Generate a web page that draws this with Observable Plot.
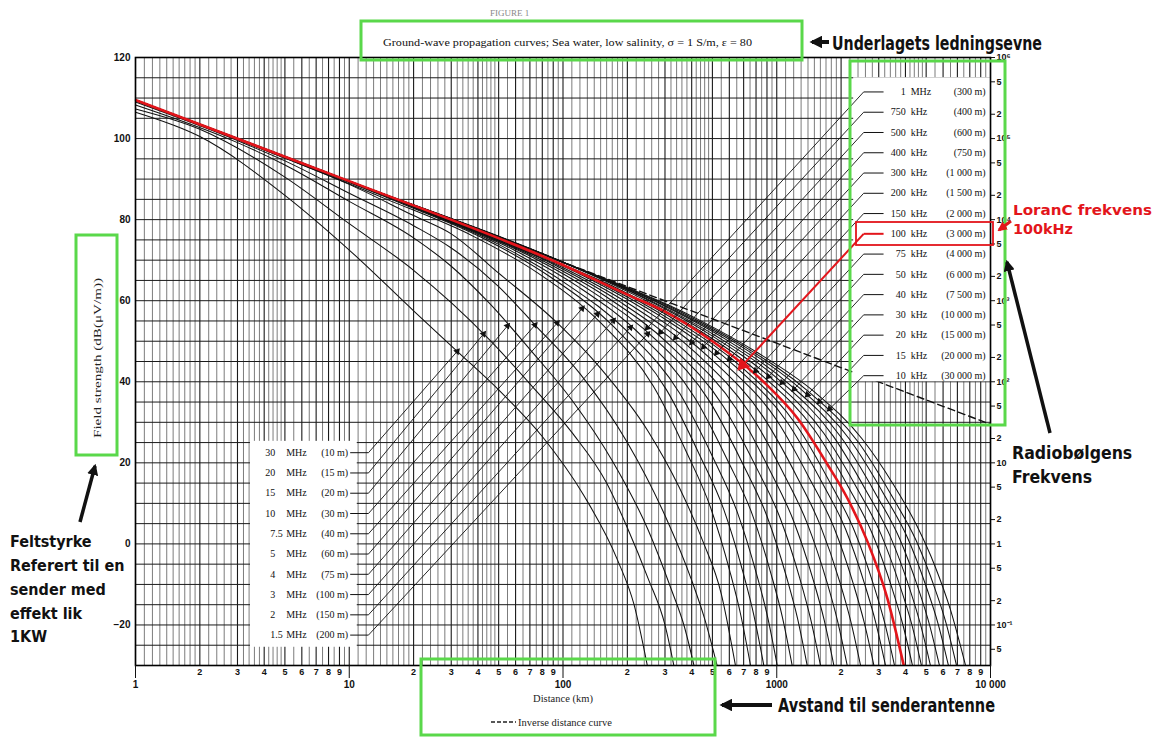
<!DOCTYPE html>
<html><head><meta charset="utf-8">
<script src="https://cdn.jsdelivr.net/npm/d3@7"></script>
<script src="https://cdn.jsdelivr.net/npm/@observablehq/plot@0.6"></script>
<style>
body{margin:0;background:#fff;}
#wrap{position:relative;width:1155px;height:738px;overflow:hidden;background:#fff;}
#chart{position:absolute;left:0;top:0;}
#ann{position:absolute;left:0;top:0;}
</style></head><body>
<div id="wrap"><div id="chart"></div>
<svg id="ann" width="1155" height="738" xmlns="http://www.w3.org/2000/svg">
<defs>
<marker id="ahB" viewBox="0 0 10 10" refX="8" refY="5" markerWidth="3.2" markerHeight="3.2" orient="auto"><path d="M0,0L10,5L0,10z" fill="#111"/></marker>
<marker id="ahR" viewBox="0 0 10 10" refX="8" refY="5" markerWidth="3.2" markerHeight="3.2" orient="auto"><path d="M0,0L10,5L0,10z" fill="#e3151b"/></marker>
</defs>
<text x="490" y="16" font-family="Liberation Serif" font-size="9" fill="#888">FIGURE 1</text>
<rect x="361" y="21" width="441" height="39" fill="none" stroke="#5ad84a" stroke-width="3"/>
<text x="383" y="46" font-family="Liberation Serif" font-size="11" fill="#111" textLength="369" lengthAdjust="spacingAndGlyphs">Ground-wave propagation curves; Sea water, low salinity, σ = 1 S/m, ε = 80</text>
<line x1="829" y1="42" x2="812" y2="42" stroke="#111" stroke-width="4" marker-end="url(#ahB)"/>
<text x="832" y="50" font-family="DejaVu Sans Condensed, DejaVu Sans, sans-serif" font-weight="bold" font-size="19" fill="#111" textLength="210" lengthAdjust="spacingAndGlyphs">Underlagets ledningsevne</text>
<rect x="850" y="61" width="155" height="364" fill="none" stroke="#5ad84a" stroke-width="3"/>
<rect x="856" y="222" width="137" height="23" fill="none" stroke="#e3151b" stroke-width="1.8"/>
<line x1="1011" y1="221" x2="999" y2="230" stroke="#e3151b" stroke-width="3" marker-end="url(#ahR)"/>
<text x="1013" y="215" font-family="DejaVu Sans Condensed, DejaVu Sans, sans-serif" font-weight="bold" font-size="13.5" fill="#e3151b" textLength="139" lengthAdjust="spacingAndGlyphs">LoranC frekvens</text>
<text x="1013" y="234" font-family="DejaVu Sans Condensed, DejaVu Sans, sans-serif" font-weight="bold" font-size="13.5" fill="#e3151b" textLength="60" lengthAdjust="spacingAndGlyphs">100kHz</text>
<line x1="1050" y1="433" x2="1007" y2="262" stroke="#111" stroke-width="3.5" marker-end="url(#ahB)"/>
<g font-family="DejaVu Sans Condensed, DejaVu Sans, sans-serif" font-weight="bold" font-size="17.5" fill="#111">
<text x="1012" y="459">Radiobølgens</text>
<text x="1012" y="483">Frekvens</text>
</g>
<rect x="76" y="235" width="41" height="220" fill="none" stroke="#5ad84a" stroke-width="3"/>
<text transform="translate(101,358) rotate(-90)" text-anchor="middle" font-family="Liberation Serif" font-size="11" fill="#222" textLength="160" lengthAdjust="spacingAndGlyphs">Field strength (dB(μV/m))</text>
<line x1="80" y1="522" x2="95" y2="466" stroke="#111" stroke-width="3.5" marker-end="url(#ahB)"/>
<g font-family="DejaVu Sans Condensed, DejaVu Sans, sans-serif" font-weight="bold" font-size="16" fill="#111">
<text x="10" y="547">Feltstyrke</text>
<text x="10" y="571">Referert til en</text>
<text x="10" y="595">sender med</text>
<text x="10" y="619">effekt lik</text>
<text x="10" y="642">1KW</text>
</g>
<rect x="421" y="659" width="294" height="76" fill="none" stroke="#5ad84a" stroke-width="3"/>
<text x="563" y="702" text-anchor="middle" font-family="Liberation Serif" font-size="10.5" fill="#222">Distance (km)</text>
<line x1="491" y1="722" x2="516" y2="722" stroke="#222" stroke-width="1.3" stroke-dasharray="4,2"/>
<text x="518" y="726" font-family="Liberation Serif" font-size="10.5" fill="#222">Inverse distance curve</text>
<line x1="772" y1="705" x2="722" y2="705" stroke="#111" stroke-width="4" marker-end="url(#ahB)"/>
<text x="778" y="712" font-family="DejaVu Sans Condensed, DejaVu Sans, sans-serif" font-weight="bold" font-size="19" fill="#111" textLength="217" lengthAdjust="spacingAndGlyphs">Avstand til senderantenne</text>
</svg>
</div>
<script>
// ---- Curve data: [distance km, field strength dB(uV/m)] ----
const c30MHz = [[1,106.5],[2,100.5],[5,86],[10,72.5],[20,57.5],[32,47.5],[50,38],[80,26.5],[125,12],[180,-4],[215,-15],[248,-30]];
const c20MHz = [[1,107.3],[2,102.3],[5,90.5],[10,79],[20,67.5],[30,59.5],[45,50.5],[70,39.5],[110,27.5],[160,15],[200,4],[250,-8.5],[300,-20],[330,-30]];
const c15MHz = [[1,108.3],[3,99],[5,93.5],[10,84.5],[20,75.5],[30,68.5],[45,59.5],[70,48],[110,35.5],[170,20.5],[250,3.5],[320,-11],[370,-20.5],[410,-30]];
const c10MHz = [[1,109],[3,99.5],[5,94.5],[10,86.5],[20,78.5],[30,73],[50,63.5],[74,54],[120,42],[200,25],[300,7],[400,-9],[460,-18.5],[526,-30]];
const c7_5MHz = [[1,109.3],[5,95.2],[10,88.7],[20,81],[30,76.5],[50,66.8],[94,54.5],[150,43.3],[250,27.8],[350,13.9],[450,0.8],[550,-12.3],[641,-30]];
const c5MHz = [[1,109.4],[5,95.2],[15,85],[37.7,76],[75.4,67],[151,54.4],[264,39],[377,22.8],[490,9],[603,-6.7],[679,-17.6],[754,-30]];
const c4MHz = [[1,109.4],[5,95.3],[17,84.3],[43.5,75.1],[87,65.9],[174,53.4],[305,38],[435,22],[566,8.4],[696,-7.1],[783,-17.8],[870,-30]];
const c3MHz = [[1,109.5],[5,95.4],[20,83],[50,73.9],[100,64.7],[201,52.3],[352,37.1],[503,21.3],[653,7.9],[804,-7.4],[905,-17.9],[1005,-30]];
const c2MHz = [[1,109.5],[10,89.4],[24,81.4],[59,72.5],[118,63.4],[236,51.1],[413,36.1],[590,20.5],[768,7.3],[945,-7.8],[1063,-18.1],[1181,-30]];
const c1_5MHz = [[1,109.5],[10,89.5],[28,80.1],[69,71.2],[139,62],[278,49.9],[486,35.1],[694,19.7],[902,6.7],[1110,-8.1],[1250,-18.3],[1388,-30]];
const c1MHz = [[1,109.5],[10,89.5],[32,78.9],[80,69.9],[160,60.9],[320,48.8],[560,34.1],[800,19],[1040,6.2],[1280,-8.4],[1440,-18.5],[1602,-30]];
const c750kHz = [[1,109.5],[10,89.5],[37,77.7],[92.5,68.7],[185,59.7],[370,47.7],[648,33.3],[925,18.3],[1200,5.6],[1480,-8.8],[1665,-18.7],[1850,-30]];
const c500kHz = [[1,109.5],[10,89.5],[50,75],[107,67.4],[214,58.5],[427,46.7],[748,32.3],[1070,17.6],[1390,5],[1710,-9.1],[1923,-18.9],[2137,-30]];
const c400kHz = [[1,109.5],[10,89.5],[50,75.2],[123,66.3],[247,57.4],[493,45.6],[863,31.4],[1234,16.9],[1600,4.5],[1975,-9.5],[2220,-19.1],[2467,-30]];
const c300kHz = [[1,109.5],[10,89.5],[50,75.3],[142,65],[285,56.2],[570,44.5],[1000,30.5],[1425,16.1],[1850,4.1],[2280,-9.8],[2560,-19.2],[2848,-30]];
const c200kHz = [[1,109.5],[10,89.5],[100,68.7],[160,64],[320,55.2],[645,43.6],[1130,29.7],[1615,15.5],[2100,3.6],[2580,-10],[2905,-19.4],[3228,-30]];
const c150kHz = [[1,109.5],[10,89.5],[100,68.9],[180,63],[355,54.4],[710,42.9],[1245,29.1],[1780,15],[2310,3.2],[2845,-10.3],[3200,-19.5],[3556,-30]];
const c100kHz = [[1,109.5],[10,89.5],[100,68.8],[200,61.5],[300,57.3],[500,50],[867,40],[1250,31],[1727,19.6],[2143,11.2],[2660,0.5],[3300,-13.6],[3929,-30]];
const c75kHz = [[1,109.5],[10,89.5],[100,69.5],[215,61.5],[430,52.8],[860,41.4],[1510,27.9],[2160,14.1],[2800,2.5],[3450,-10.7],[3880,-19.7],[4315,-30]];
const c50kHz = [[1,109.5],[10,89.5],[100,69.5],[240,60.6],[475,52],[950,40.7],[1660,27.3],[2380,13.6],[3090,2.1],[3800,-10.9],[4280,-19.8],[4753,-30]];
const c40kHz = [[1,109.5],[10,89.5],[100,69.5],[260,59.9],[520,51.3],[1050,40],[1830,26.7],[2620,13.1],[3400,1.8],[4190,-11.1],[4710,-20],[5236,-30]];
const c30kHz = [[1,109.5],[10,89.5],[100,69.5],[290,59],[580,50.4],[1150,39.3],[2000,26.3],[2900,12.4],[3750,1.4],[4600,-11.1],[5200,-20.2],[5770,-30]];
const c20kHz = [[1,109.5],[10,89.5],[100,69.5],[320,58.1],[640,49.6],[1300,38.1],[2200,25.7],[3200,11.9],[4100,1.4],[5000,-10.5],[5700,-19.9],[6357,-30]];
const c15kHz = [[1,109.5],[10,89.5],[100,69.5],[350,57.4],[700,48.8],[1400,37.7],[2400,25.2],[3500,11.3],[4500,0.7],[5500,-11.1],[6200,-19.6],[6935,-30]];
const c10kHz = [[1,109.5],[10,89.5],[100,69.5],[400,56.2],[800,47.4],[1500,37.5],[2500,26],[3500,14.8],[4500,4.7],[5500,-5.5],[6500,-16.3],[7643,-30]];
const inverseDistance = [[1,109.5],[10000,29.5]];

const curveNames = ["30 MHz","20 MHz","15 MHz","10 MHz","7.5 MHz","5 MHz","4 MHz","3 MHz","2 MHz","1.5 MHz","1 MHz","750 kHz","500 kHz","400 kHz","300 kHz","200 kHz","150 kHz","100 kHz","75 kHz","50 kHz","40 kHz","30 kHz","20 kHz","15 kHz","10 kHz"];
const curvePoints = [c30MHz,c20MHz,c15MHz,c10MHz,c7_5MHz,c5MHz,c4MHz,c3MHz,c2MHz,c1_5MHz,c1MHz,c750kHz,c500kHz,c400kHz,c300kHz,c200kHz,c150kHz,c100kHz,c75kHz,c50kHz,c40kHz,c30kHz,c20kHz,c15kHz,c10kHz];

// ---- Curve labels ----
const leftNum = ["30","20","15","10","7.5","5","4","3","2","1.5"];
const leftWave = ["(10 m)","(15 m)","(20 m)","(30 m)","(40 m)","(60 m)","(75 m)","(100 m)","(150 m)","(200 m)"];
const leftTipDist = [32,42.5,55,74,94,123,145,172,207,249];
const leftTipDb = [47.5,51.8,53.8,54,54.5,58.1,56.7,55.1,53.4,51.8];
const rightNum = ["1","750","500","400","300","200","150","100","75","50","40","30","20","15","10"];
const rightUnit = ["MHz","kHz","kHz","kHz","kHz","kHz","kHz","kHz","kHz","kHz","kHz","kHz","kHz","kHz","kHz"];
const rightWave = ["(300 m)","(400 m)","(600 m)","(750 m)","(1 000 m)","(1 500 m)","(2 000 m)","(3 000 m)","(4 000 m)","(6 000 m)","(7 500 m)","(10 000 m)","(15 000 m)","(20 000 m)","(30 000 m)"];
const rightTipDist = [248,286,336,400,454,523,600,692,796,915,1058,1205,1392,1585,1766];
const rightTipDb = [53.3,52.2,50.9,49.7,48.6,47.1,45.6,44.1,42.7,41.3,39.8,38.2,36.8,35.1,33.3];

// ---- Axis ticks ----
const leftTicks = [-20,0,20,40,60,80,100,120];
const majorDist = [1,10,100,1000,10000];
const majorDistLabels = ["1","10","100","1000","10 000"];
const minorDigits = ["2","3","4","5","6","7","8","9"];
const rightTickDb = [120,114,106,100,94,86,80,74,66,60,54,46,40,34,26,20,14,6,0,-6,-14,-20,-26];
const rightTickLabels = ["10⁶","5","2","10⁵","5","2","10⁴","5","2","10³","5","2","10²","5","2","10","5","2","1","5","2","10⁻¹","5"];

// ---- layout ----
const W = 1155, H = 738, ML = 135, MR = 165, MT = 57, MB = 73;
const LEFT_LINE_D0 = 10.1, LEFT_ELBOW_D = 12.3;
const RIGHT_ELBOW_D = 2550, RIGHT_LINE_D1 = 3160;
const LEFT_PANEL = {x1: 3.45, x2: 10.9, y1: -25.5, y2: 25.3};
const RIGHT_PANEL = {x1: 2290, x2: 10000, y1: 40, y2: 115};

const gridMinor = [], gridMajor = [];
for (let p = 0; p < 4; p++) {
  const b = 10 ** p;
  for (let k = 10; k < 20; k++) (k % 10 === 0 ? gridMajor : gridMinor).push(k / 10 * b);
  for (let k = 20; k < 50; k += 2) (k % 10 === 0 ? gridMajor : gridMinor).push(k / 10 * b);
  for (let k = 50; k < 100; k += 5) (k % 10 === 0 ? gridMajor : gridMinor).push(k / 10 * b);
}
gridMajor.push(10000);
const gridY = d3.range(-30, 121, 5);
const minorTicks = [];
for (let p = 0; p < 4; p++) minorDigits.forEach(t => minorTicks.push({d: +t * 10 ** p, t}));

const blackRows = [];
curvePoints.forEach((pts, i) => {
  if (curveNames[i] !== "100 kHz") pts.forEach(([d, e]) => blackRows.push({f: curveNames[i], d, e}));
});

// scales (same as the plot's) used only to orient the arrowheads
const sx = Plot.scale({x: {type: "log", domain: [1, 10000], range: [ML, W - MR]}});
const sy = Plot.scale({y: {domain: [-30, 120], range: [H - MB, MT]}});
const headAngle = (x1, y1, x2, y2) => Math.atan2(sy.apply(y2) - sy.apply(y1), sx.apply(x2) - sx.apply(x1)) * 180 / Math.PI + 90;

const leftRows = leftNum.map((n, i) => {
  const e = 22.5 - 5 * i;
  return {n, u: "MHz", w: leftWave[i], e, td: leftTipDist[i], te: leftTipDb[i], rot: headAngle(LEFT_ELBOW_D, e, leftTipDist[i], leftTipDb[i])};
});
const rightRows = rightNum.map((n, i) => {
  const e = 111.5 - 5 * i;
  return {n, u: rightUnit[i], w: rightWave[i], e, td: rightTipDist[i], te: rightTipDb[i], red: n === "100", rot: headAngle(RIGHT_ELBOW_D, e, rightTipDist[i], rightTipDb[i])};
});
const majorMap = new Map(majorDist.map((d, i) => [d, majorDistLabels[i]]));
const rightMap = new Map(rightTickDb.map((d, i) => [d, rightTickLabels[i]]));

const serif = "Liberation Serif, Times New Roman, serif";
const sansB = "Liberation Sans, Arial, sans-serif";

const chart = Plot.plot({
  width: W, height: H,
  marginLeft: ML, marginRight: MR, marginTop: MT, marginBottom: MB,
  style: {fontFamily: serif, fontSize: "10px", background: "transparent", color: "#111"},
  x: {type: "log", domain: [1, 10000], axis: null},
  y: {domain: [-30, 120], axis: null},
  marks: [
    Plot.ruleX(gridMinor, {stroke: "#444", strokeWidth: 0.7}),
    Plot.ruleX(gridMajor, {stroke: "#1a1a1a", strokeWidth: 1.1}),
    Plot.ruleY(gridY, {stroke: "#1a1a1a", strokeWidth: 1}),
    Plot.line(inverseDistance, {x: p => p[0], y: p => p[1], stroke: "#111", strokeWidth: 1.4, strokeDasharray: "7,4"}),
    Plot.rect([LEFT_PANEL, RIGHT_PANEL], {x1: "x1", x2: "x2", y1: "y1", y2: "y2", fill: "white"}),
    Plot.line(blackRows, {x: "d", y: "e", z: "f", stroke: "#111", strokeWidth: 1.05, curve: "monotone-x", clip: true}),
    Plot.line(c100kHz, {x: p => p[0], y: p => p[1], stroke: "#e3151b", strokeWidth: 2.6, curve: "monotone-x", clip: true}),
    // left labels
    Plot.link(leftRows, {x1: () => LEFT_LINE_D0, x2: () => LEFT_ELBOW_D, y1: "e", y2: "e", stroke: "#111", strokeWidth: 1}),
    Plot.link(leftRows, {x1: () => LEFT_ELBOW_D, y1: "e", x2: "td", y2: "te", stroke: "#111", strokeWidth: 0.9}),
    Plot.dot(leftRows, {x: "td", y: "te", symbol: "triangle", r: 2.6, rotate: "rot", fill: "#111", stroke: "none"}),
    Plot.text(leftRows, {x: () => LEFT_LINE_D0, y: "e", text: "w", textAnchor: "end", dx: -2, fontFamily: serif, fontSize: 10}),
    Plot.text(leftRows, {x: () => LEFT_LINE_D0, y: "e", text: "u", textAnchor: "start", dx: -64, fontFamily: serif, fontSize: 10}),
    Plot.text(leftRows, {filter: d => d.n.length === 2, x: () => LEFT_LINE_D0, y: "e", text: "n", textAnchor: "start", dx: -85, fontFamily: serif, fontSize: 10}),
    Plot.text(leftRows, {filter: d => d.n.length !== 2, x: () => LEFT_LINE_D0, y: "e", text: "n", textAnchor: "start", dx: -80, fontFamily: serif, fontSize: 10}),
    // right labels
    Plot.link(rightRows.filter(d => !d.red), {x1: () => RIGHT_ELBOW_D, x2: () => RIGHT_LINE_D1, y1: "e", y2: "e", stroke: "#111", strokeWidth: 1}),
    Plot.link(rightRows.filter(d => !d.red), {x1: () => RIGHT_ELBOW_D, y1: "e", x2: "td", y2: "te", stroke: "#111", strokeWidth: 0.9}),
    Plot.dot(rightRows.filter(d => !d.red), {x: "td", y: "te", symbol: "triangle", r: 2.6, rotate: "rot", fill: "#111", stroke: "none"}),
    Plot.link(rightRows.filter(d => d.red), {x1: () => RIGHT_ELBOW_D, x2: () => RIGHT_LINE_D1, y1: "e", y2: "e", stroke: "#e3151b", strokeWidth: 2}),
    Plot.link(rightRows.filter(d => d.red), {x1: () => RIGHT_ELBOW_D, y1: "e", x2: "td", y2: "te", stroke: "#e3151b", strokeWidth: 2}),
    Plot.dot(rightRows.filter(d => d.red), {x: "td", y: "te", symbol: "triangle", r: 5, rotate: "rot", fill: "#e3151b", stroke: "none"}),
    Plot.text(rightRows, {x: () => RIGHT_ELBOW_D, y: "e", text: "n", textAnchor: "end", dx: 42, fontFamily: serif, fontSize: 10}),
    Plot.text(rightRows, {x: () => RIGHT_ELBOW_D, y: "e", text: "u", textAnchor: "start", dx: 47, fontFamily: serif, fontSize: 10}),
    Plot.text(rightRows, {x: () => RIGHT_ELBOW_D, y: "e", text: "w", textAnchor: "end", dx: 122, fontFamily: serif, fontSize: 10}),
    Plot.frame({stroke: "#000", strokeWidth: 1.6}),
    // axes
    Plot.axisY(leftTicks, {anchor: "left", tickSize: 0, tickPadding: 5, fontSize: 10, fontWeight: "bold", fontFamily: sansB, label: null}),
    Plot.axisY(rightTickDb, {anchor: "right", tickSize: 4, tickPadding: 2, tickFormat: d => rightMap.get(d), fontSize: 9, fontWeight: "bold", fontFamily: sansB, label: null}),
    Plot.text(minorTicks, {x: "d", text: "t", frameAnchor: "bottom", dy: 9, fontSize: 9, fontWeight: "bold", fontFamily: sansB}),
    Plot.axisX(majorDist, {anchor: "bottom", tickSize: 13, tickPadding: 2, tickFormat: d => majorMap.get(d), fontSize: 10, fontWeight: "bold", fontFamily: sansB, label: null})
  ]
});
document.getElementById("chart").appendChild(chart);
</script>
</body></html>
